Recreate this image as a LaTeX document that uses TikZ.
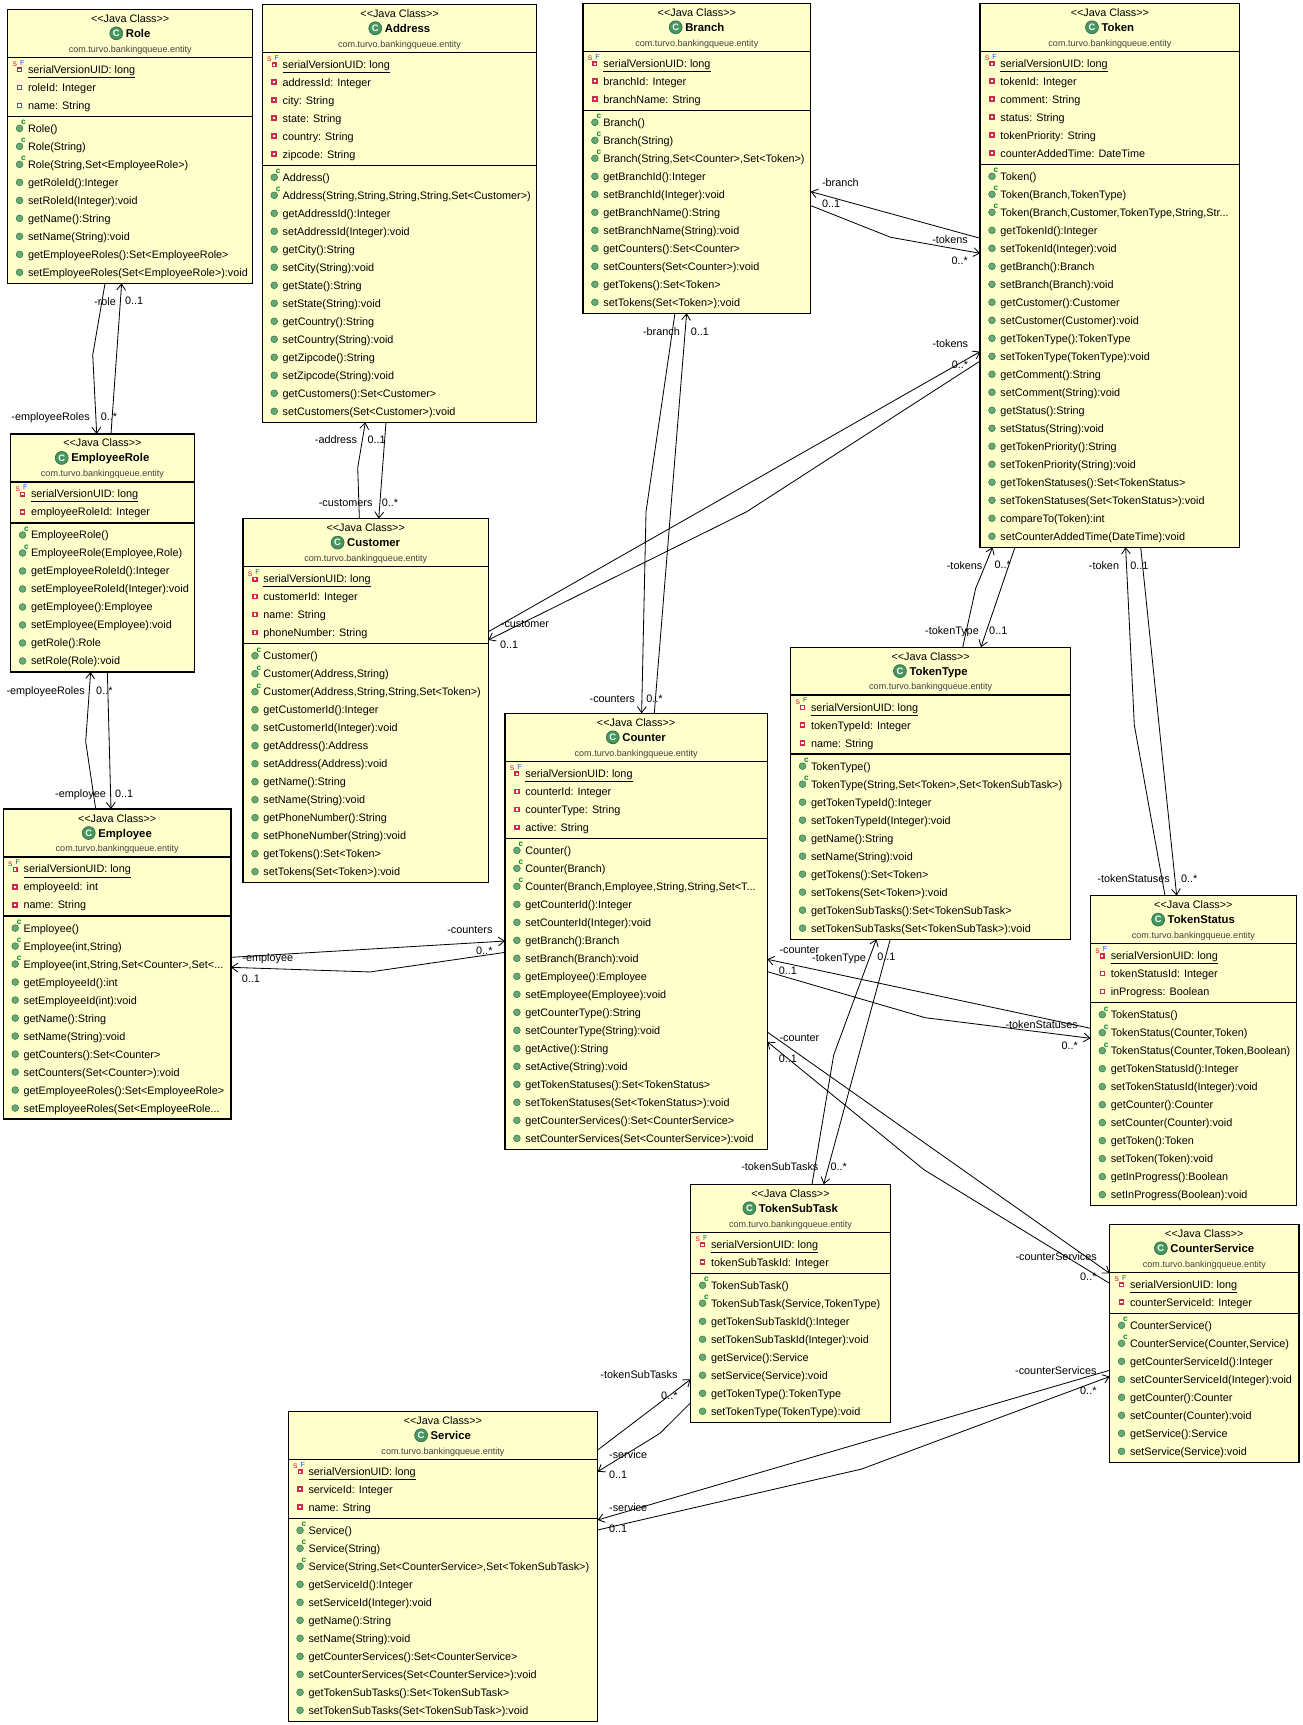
\documentclass[tikz,border=0pt]{standalone}
\usepackage{fontspec}
\setmainfont{Liberation Sans}
\usetikzlibrary{arrows.meta,calc}
\definecolor{boxfill}{RGB}{255,255,204}
\definecolor{fieldred}{RGB}{205,45,75}
\definecolor{methgreen}{RGB}{104,170,118}
\definecolor{methgreendark}{RGB}{50,115,70}
\definecolor{ctorgreen}{RGB}{0,140,50}
\definecolor{classgreen}{RGB}{70,150,95}
\definecolor{classgreendark}{RGB}{40,100,60}
\definecolor{sred}{RGB}{215,0,40}
\definecolor{fblue}{RGB}{30,80,220}

\newcommand\pitch{16.36}
\newcommand\jc{<\kern0pt<Java Class>\kern0pt>}
\newcommand\el{...}
\newcommand\rowfont{\fontsize{9.85}{12}\selectfont}

\tikzset{
  rowtext/.style={anchor=base west, inner sep=0pt, font=\rowfont},
  classbox/.style={draw=black, fill=boxfill, line width=1.1pt, inner sep=0pt, outer sep=0pt, anchor=north west},
  sepline/.style={draw=black, line width=1.1pt},
  assoc/.style={draw=black, line width=0.75pt, -{Straight Barb[length=5.5pt,width=8pt]}},
  lbl/.style={inner sep=0pt, font=\rowfont},
}

\newcommand\iconp[3]{%
  \fill[fieldred] ({#1-2.5},{#2-2.5}) rectangle ({#1+2.5},{#2+2.5});
  \fill[white] ({#1-1.1},{#2-1.1}) rectangle ({#1+1.1},{#2+1.1});}
\newcommand\iconm[3]{%
  \filldraw[fill=methgreen,draw=methgreendark,line width=0.45pt] (#1,#2) circle[radius=3.1pt];}
\newcommand\iconc[3]{%
  \iconm{#1}{#2}{#3}%
  \node[font=\fontsize{7.5}{7.5}\selectfont\bfseries,text=ctorgreen,inner sep=0pt] (#3-c) at ({#1+3.6},{#2-5.3}) {c};}
\newcommand\icons[3]{%
  \fill[fieldred] ({#1-2.3},{#2-1.9}) rectangle ({#1+2.3},{#2+2.7});
  \fill[white] ({#1-1},{#2-0.6}) rectangle ({#1+1},{#2+1.4});
  \node[font=\fontsize{6}{6}\selectfont,text=sred,inner sep=0pt] (#3-s) at ({#1-4.4},{#2-4.3}) {S};
  \node[font=\fontsize{6.5}{6.5}\selectfont,text=fblue,inner sep=0pt] (#3-f) at ({#1+2.4},{#2-6}) {F};}
\newcommand\fmts[1]{\underline{#1}}
\newcommand\fmtp[1]{#1}
\newcommand\fmtm[1]{#1}
\newcommand\fmtc[1]{#1}

\newcommand\umlrow[5]{%
  \csname icon#1\endcsname{#2+10.8}{#3}{#5}%
  \node[rowtext] (#5) at ({#2+18.3},{#3+3.6}) {\csname fmt#1\endcsname{#4}};}

\newcommand\umlclass[7]{%
  \pgfmathsetmacro\cx{(#3+#5)/2}%
  \foreach \rk/\rt [count=\ri] in {#6} {\xdef\na{\ri}}%
  \foreach \rk/\rt [count=\ri] in {#7} {\xdef\nm{\ri}}%
  \pgfmathsetmacro\la{#4+43.6}%
  \pgfmathsetmacro\lb{#4+54.5+(\na-1)*\pitch+10}%
  \pgfmathsetmacro\bt{\lb+11+(\nm-1)*\pitch+10}%
  \node[classbox, minimum width={(#5-#3)*1pt}, minimum height={(\bt-#4)*1pt}] (#1) at (#3,#4) {};
  \draw[sepline] (#3,\la) -- (#5,\la);
  \draw[sepline] (#3,\lb) -- (#5,\lb);
  \node[lbl, anchor=base] (#1-st) at (\cx,{#4+8.2+3.6}) {\jc};
  \node[lbl, anchor=base, font=\fontsize{10.3}{12}\selectfont\bfseries] (#1-nm) at ({\cx+7.2},{#4+21.8+3.7}) {#2};
  \coordinate (#1-ic) at ($(#1-nm.west |- 0,{#4+21.8})+(-8.5,0)$);
  \filldraw[fill=classgreen, draw=classgreendark, line width=0.5pt] (#1-ic) circle[radius=5.9pt];
  \node[inner sep=0pt, text=white, font=\fontsize{8.5}{8.5}\selectfont\bfseries] (#1-icl) at (#1-ic) {C};
  \node[lbl, anchor=base, text=black!75, font=\fontsize{8.2}{10}\selectfont] (#1-pk) at (\cx,{#4+36+2.9}) {com.turvo.bankingqueue.entity};
  \foreach \rk/\rt [count=\ri] in {#6} {\pgfmathsetmacro\ry{#4+54.5+(\ri-1)*\pitch}\umlrow{\rk}{#3}{\ry}{\rt}{#1-a\ri}}%
  \foreach \rk/\rt [count=\ri] in {#7} {\pgfmathsetmacro\ry{\lb+11+(\ri-1)*\pitch}\umlrow{\rk}{#3}{\ry}{\rt}{#1-m\ri}}%
}

\begin{document}
\begin{tikzpicture}[x=1pt,y=-1pt]
\fill[white] (0,0) rectangle (1184.5,1568.2);
\useasboundingbox (0,0) rectangle (1184.5,1568.2);

\umlclass{Role}{Role}{7}{8.5}{229.7}
{s/{serialVersionUID: long}, p/{roleId: Integer}, p/{name: String}}
{c/{Role()}, c/{Role(String)}, c/{Role(String,Set<EmployeeRole>)}, m/{getRoleId():Integer}, m/{setRoleId(Integer):void}, m/{getName():String}, m/{setName(String):void}, m/{getEmployeeRoles():Set<EmployeeRole>}, m/{setEmployeeRoles(Set<EmployeeRole>):void}}

\umlclass{Address}{Address}{238.5}{3.9}{488}
{s/{serialVersionUID: long}, p/{addressId: Integer}, p/{city: String}, p/{state: String}, p/{country: String}, p/{zipcode: String}}
{c/{Address()}, c/{Address(String,String,String,String,Set<Customer>)}, m/{getAddressId():Integer}, m/{setAddressId(Integer):void}, m/{getCity():String}, m/{setCity(String):void}, m/{getState():String}, m/{setState(String):void}, m/{getCountry():String}, m/{setCountry(String):void}, m/{getZipcode():String}, m/{setZipcode(String):void}, m/{getCustomers():Set<Customer>}, m/{setCustomers(Set<Customer>):void}}

\umlclass{Branch}{Branch}{530}{3}{737}
{s/{serialVersionUID: long}, p/{branchId: Integer}, p/{branchName: String}}
{c/{Branch()}, c/{Branch(String)}, c/{Branch(String,Set<Counter>,Set<Token>)}, m/{getBranchId():Integer}, m/{setBranchId(Integer):void}, m/{getBranchName():String}, m/{setBranchName(String):void}, m/{getCounters():Set<Counter>}, m/{setCounters(Set<Counter>):void}, m/{getTokens():Set<Token>}, m/{setTokens(Set<Token>):void}}

\umlclass{Token}{Token}{891}{3}{1127}
{s/{serialVersionUID: long}, p/{tokenId: Integer}, p/{comment: String}, p/{status: String}, p/{tokenPriority: String}, p/{counterAddedTime: DateTime}}
{c/{Token()}, c/{Token(Branch,TokenType)}, c/{Token(Branch,Customer,TokenType,String,Str\el}, m/{getTokenId():Integer}, m/{setTokenId(Integer):void}, m/{getBranch():Branch}, m/{setBranch(Branch):void}, m/{getCustomer():Customer}, m/{setCustomer(Customer):void}, m/{getTokenType():TokenType}, m/{setTokenType(TokenType):void}, m/{getComment():String}, m/{setComment(String):void}, m/{getStatus():String}, m/{setStatus(String):void}, m/{getTokenPriority():String}, m/{setTokenPriority(String):void}, m/{getTokenStatuses():Set<TokenStatus>}, m/{setTokenStatuses(Set<TokenStatus>):void}, m/{compareTo(Token):int}, m/{setCounterAddedTime(DateTime):void}}

\umlclass{EmployeeRole}{EmployeeRole}{9.7}{394.5}{176.5}
{s/{serialVersionUID: long}, p/{employeeRoleId: Integer}}
{c/{EmployeeRole()}, c/{EmployeeRole(Employee,Role)}, m/{getEmployeeRoleId():Integer}, m/{setEmployeeRoleId(Integer):void}, m/{getEmployee():Employee}, m/{setEmployee(Employee):void}, m/{getRole():Role}, m/{setRole(Role):void}}

\umlclass{Customer}{Customer}{221}{471.5}{443.9}
{s/{serialVersionUID: long}, p/{customerId: Integer}, p/{name: String}, p/{phoneNumber: String}}
{c/{Customer()}, c/{Customer(Address,String)}, c/{Customer(Address,String,String,Set<Token>)}, m/{getCustomerId():Integer}, m/{setCustomerId(Integer):void}, m/{getAddress():Address}, m/{setAddress(Address):void}, m/{getName():String}, m/{setName(String):void}, m/{getPhoneNumber():String}, m/{setPhoneNumber(String):void}, m/{getTokens():Set<Token>}, m/{setTokens(Set<Token>):void}}

\umlclass{Employee}{Employee}{3}{735.5}{210}
{s/{serialVersionUID: long}, p/{employeeId: int}, p/{name: String}}
{c/{Employee()}, c/{Employee(int,String)}, c/{Employee(int,String,Set<Counter>,Set<\el}, m/{getEmployeeId():int}, m/{setEmployeeId(int):void}, m/{getName():String}, m/{setName(String):void}, m/{getCounters():Set<Counter>}, m/{setCounters(Set<Counter>):void}, m/{getEmployeeRoles():Set<EmployeeRole>}, m/{setEmployeeRoles(Set<EmployeeRole\el}}

\umlclass{Counter}{Counter}{459.1}{648.5}{697.5}
{s/{serialVersionUID: long}, p/{counterId: Integer}, p/{counterType: String}, p/{active: String}}
{c/{Counter()}, c/{Counter(Branch)}, c/{Counter(Branch,Employee,String,String,Set<T\el}, m/{getCounterId():Integer}, m/{setCounterId(Integer):void}, m/{getBranch():Branch}, m/{setBranch(Branch):void}, m/{getEmployee():Employee}, m/{setEmployee(Employee):void}, m/{getCounterType():String}, m/{setCounterType(String):void}, m/{getActive():String}, m/{setActive(String):void}, m/{getTokenStatuses():Set<TokenStatus>}, m/{setTokenStatuses(Set<TokenStatus>):void}, m/{getCounterServices():Set<CounterService>}, m/{setCounterServices(Set<CounterService>):void}}

\umlclass{TokenType}{TokenType}{718.8}{588.3}{973.3}
{s/{serialVersionUID: long}, p/{tokenTypeId: Integer}, p/{name: String}}
{c/{TokenType()}, c/{TokenType(String,Set<Token>,Set<TokenSubTask>)}, m/{getTokenTypeId():Integer}, m/{setTokenTypeId(Integer):void}, m/{getName():String}, m/{setName(String):void}, m/{getTokens():Set<Token>}, m/{setTokens(Set<Token>):void}, m/{getTokenSubTasks():Set<TokenSubTask>}, m/{setTokenSubTasks(Set<TokenSubTask>):void}}

\umlclass{TokenStatus}{TokenStatus}{991.3}{814.2}{1178.5}
{s/{serialVersionUID: long}, p/{tokenStatusId: Integer}, p/{inProgress: Boolean}}
{c/{TokenStatus()}, c/{TokenStatus(Counter,Token)}, c/{TokenStatus(Counter,Token,Boolean)}, m/{getTokenStatusId():Integer}, m/{setTokenStatusId(Integer):void}, m/{getCounter():Counter}, m/{setCounter(Counter):void}, m/{getToken():Token}, m/{setToken(Token):void}, m/{getInProgress():Boolean}, m/{setInProgress(Boolean):void}}

\umlclass{TokenSubTask}{TokenSubTask}{627.9}{1076.6}{809.4}
{s/{serialVersionUID: long}, p/{tokenSubTaskId: Integer}}
{c/{TokenSubTask()}, c/{TokenSubTask(Service,TokenType)}, m/{getTokenSubTaskId():Integer}, m/{setTokenSubTaskId(Integer):void}, m/{getService():Service}, m/{setService(Service):void}, m/{getTokenType():TokenType}, m/{setTokenType(TokenType):void}}

\umlclass{CounterService}{CounterService}{1008.8}{1113}{1181}
{s/{serialVersionUID: long}, p/{counterServiceId: Integer}}
{c/{CounterService()}, c/{CounterService(Counter,Service)}, m/{getCounterServiceId():Integer}, m/{setCounterServiceId(Integer):void}, m/{getCounter():Counter}, m/{setCounter(Counter):void}, m/{getService():Service}, m/{setService(Service):void}}

\umlclass{Service}{Service}{262}{1283}{543.3}
{s/{serialVersionUID: long}, p/{serviceId: Integer}, p/{name: String}}
{c/{Service()}, c/{Service(String)}, c/{Service(String,Set<CounterService>,Set<TokenSubTask>)}, m/{getServiceId():Integer}, m/{setServiceId(Integer):void}, m/{getName():String}, m/{setName(String):void}, m/{getCounterServices():Set<CounterService>}, m/{setCounterServices(Set<CounterService>):void}, m/{getTokenSubTasks():Set<TokenSubTask>}, m/{setTokenSubTasks(Set<TokenSubTask>):void}}

% ---------- connectors ----------
% Role - EmployeeRole
\draw[assoc] ($(Role.south west)+(88.5,0)$) -- (84.3,322.7) -- ($(EmployeeRole.north west)+(78.2,0)$);
\draw[assoc] ($(EmployeeRole.north west)+(91.2,0)$) -- ($(Role.south west)+(103.6,0)$);
% EmployeeRole - Employee
\draw[assoc] ($(Employee.north west)+(84,0)$) -- (77.9,674.2) -- ($(EmployeeRole.south west)+(72.7,0)$);
\draw[assoc] ($(EmployeeRole.south west)+(87.9,0)$) -- ($(Employee.north west)+(97.9,0)$);
% Address - Customer
\draw[assoc] ($(Customer.north west)+(105.7,0)$) -- (325.2,425.2) -- ($(Address.south west)+(93.6,0)$);
\draw[assoc] ($(Address.south west)+(112.4,0)$) -- ($(Customer.north west)+(123.3,0)$);
% Branch - Token
\draw[assoc] ($(Token.north west)+(0,213.6)$) -- ($(Branch.north east)+(0,171.2)$);
\draw[assoc] ($(Branch.north east)+(0,183.9)$) -- (809.6,215.7) -- ($(Token.north west)+(0,227.3)$);
% Branch - Counter
\draw[assoc] ($(Counter.north west)+(135.7,0)$) -- ($(Branch.south west)+(94.2,0)$);
\draw[assoc] ($(Branch.south west)+(83.6,0)$) -- (587.3,465.2) -- ($(Counter.north west)+(124.2,0)$);
% Token - Customer
\draw[assoc] ($(Customer.north east)+(0,102.8)$) -- ($(Token.north west)+(0,316.7)$);
\draw[assoc] ($(Token.north west)+(0,325.2)$) -- (678.8,465.2) -- ($(Customer.north east)+(0,110.3)$);
% Token - TokenType
\draw[assoc] ($(TokenType.north west)+(156.4,0)$) -- (887,534.8) -- ($(Token.south west)+(11.4,0)$);
\draw[assoc] ($(Token.south west)+(31.7,0)$) -- ($(TokenType.north west)+(173,0)$);
% Token - TokenStatus
\draw[assoc] ($(TokenStatus.north west)+(67.8,0)$) -- (1031.2,659.1) -- ($(Token.south west)+(132.3,0)$);
\draw[assoc] ($(Token.south west)+(146,0)$) -- ($(TokenStatus.north west)+(78.4,0)$);
% Employee - Counter
\draw[assoc] ($(Employee.north east)+(0,134.8)$) -- ($(Counter.north west)+(0,207)$);
\draw[assoc] ($(Counter.north west)+(0,217.3)$) -- (336.4,883.6) -- ($(Employee.north east)+(0,143.9)$);
% Counter - TokenStatus
\draw[assoc] ($(TokenStatus.north west)+(0,120.6)$) -- ($(Counter.north east)+(0,223.6)$);
\draw[assoc] ($(Counter.north east)+(0,234.8)$) -- (841.2,925.2) -- ($(TokenStatus.north west)+(0,129.7)$);
% Counter - CounterService
\draw[assoc] ($(Counter.north east)+(0,289.7)$) -- ($(CounterService.north west)+(0,44.6)$);
\draw[assoc] ($(CounterService.north west)+(0,53.7)$) -- (840.3,1063.6) -- ($(Counter.north east)+(0,298.5)$);
% TokenType - TokenSubTask
\draw[assoc] ($(TokenSubTask.north west)+(110.3,0)$) -- (757.9,959.1) -- ($(TokenType.south west)+(77.9,0)$);
\draw[assoc] ($(TokenType.south west)+(90.6,0)$) -- ($(TokenSubTask.north west)+(120.9,0)$);
% TokenSubTask - Service
\draw[assoc] ($(Service.north east)+(0,35.2)$) -- ($(TokenSubTask.north west)+(0,177.3)$);
\draw[assoc] ($(TokenSubTask.north west)+(0,198.6)$) -- (600,1303) -- ($(Service.north east)+(0,54.9)$);
% CounterService - Service
\draw[assoc] ($(CounterService.north west)+(0,132.7)$) -- ($(Service.north east)+(0,98.8)$);
\draw[assoc] ($(Service.north east)+(0,107.9)$) -- (783.3,1335.5) -- ($(CounterService.north west)+(0,138.4)$);

% ---------- connector labels ----------
\node[lbl, anchor=base east] (lb1) at (105.5,277.9) {-role};
\node[lbl, anchor=base west] (lb2) at (113.6,277) {0..1};
\node[lbl, anchor=base east] (lb3) at (81.8,382.6) {-employeeRoles};
\node[lbl, anchor=base west] (lb4) at (91.5,382.6) {0..*};
\node[lbl, anchor=base east] (lb5) at (77.3,631.5) {-employeeRoles};
\node[lbl, anchor=base west] (lb6) at (87.3,631) {0..*};
\node[lbl, anchor=base east] (lb7) at (96.4,724.8) {-employee};
\node[lbl, anchor=base west] (lb8) at (104.5,724.6) {0..1};
\node[lbl, anchor=base east] (lb9) at (324.8,403.6) {-address};
\node[lbl, anchor=base west] (lb10) at (333.9,403.6) {0..1};
\node[lbl, anchor=base east] (lb11) at (338.8,460.3) {-customers};
\node[lbl, anchor=base west] (lb12) at (347,460.3) {0..*};
\node[lbl, anchor=base west] (lb13) at (747.1,169.3) {-branch};
\node[lbl, anchor=base west] (lb14) at (747.1,188.4) {0..1};
\node[lbl, anchor=base east] (lb15) at (880,221.7) {-tokens};
\node[lbl, anchor=base east] (lb16) at (880,240.5) {0..*};
\node[lbl, anchor=base east] (lb17) at (618.2,304.6) {-branch};
\node[lbl, anchor=base west] (lb18) at (627.9,304.6) {0..1};
\node[lbl, anchor=base east] (lb19) at (577.3,638.4) {-counters};
\node[lbl, anchor=base west] (lb20) at (587.3,638.4) {0..*};
\node[lbl, anchor=base east] (lb21) at (880.3,316.3) {-tokens};
\node[lbl, anchor=base east] (lb22) at (880.3,335.4) {0..*};
\node[lbl, anchor=base west] (lb23) at (455.2,570.9) {-customer};
\node[lbl, anchor=base west] (lb24) at (454.5,590) {0..1};
\node[lbl, anchor=base east] (lb25) at (893.3,517.6) {-tokens};
\node[lbl, anchor=base west] (lb26) at (903.9,517.2) {0..*};
\node[lbl, anchor=base east] (lb27) at (890,577) {-tokenType};
\node[lbl, anchor=base west] (lb28) at (899.1,577) {0..1};
\node[lbl, anchor=base east] (lb29) at (1017.5,517.9) {-token};
\node[lbl, anchor=base west] (lb30) at (1027.3,517.9) {0..1};
\node[lbl, anchor=base east] (lb31) at (1063.6,802.1) {-tokenStatuses};
\node[lbl, anchor=base west] (lb32) at (1073.6,802.1) {0..*};
\node[lbl, anchor=base east] (lb33) at (447.9,848.4) {-counters};
\node[lbl, anchor=base east] (lb34) at (447.9,867.9) {0..*};
\node[lbl, anchor=base west] (lb35) at (220.3,873.9) {-employee};
\node[lbl, anchor=base west] (lb36) at (219.7,893) {0..1};
\node[lbl, anchor=base west] (lb37) at (708.5,867.2) {-counter};
\node[lbl, anchor=base west] (lb38) at (707.9,886.3) {0..1};
\node[lbl, anchor=base east] (lb39) at (980,935.4) {-tokenStatuses};
\node[lbl, anchor=base east] (lb40) at (980,954.5) {0..*};
\node[lbl, anchor=base west] (lb41) at (708.5,946.6) {-counter};
\node[lbl, anchor=base west] (lb42) at (707.9,965.7) {0..1};
\node[lbl, anchor=base east] (lb43) at (997.3,1146.1) {-counterServices};
\node[lbl, anchor=base east] (lb44) at (997,1164.2) {0..*};
\node[lbl, anchor=base west] (lb45) at (738.2,873.9) {-tokenType};
\node[lbl, anchor=base west] (lb46) at (797.3,873.3) {0..1};
\node[lbl, anchor=base east] (lb47) at (744.2,1064.2) {-tokenSubTasks};
\node[lbl, anchor=base west] (lb48) at (754.8,1064.2) {0..*};
\node[lbl, anchor=base east] (lb49) at (616.1,1253) {-tokenSubTasks};
\node[lbl, anchor=base east] (lb50) at (616.1,1272.4) {0..*};
\node[lbl, anchor=base west] (lb51) at (553.6,1325.7) {-service};
\node[lbl, anchor=base west] (lb52) at (553.6,1344.5) {0..1};
\node[lbl, anchor=base east] (lb53) at (997,1249.1) {-counterServices};
\node[lbl, anchor=base east] (lb54) at (997,1268.1) {0..*};
\node[lbl, anchor=base west] (lb55) at (553.6,1373.9) {-service};
\node[lbl, anchor=base west] (lb56) at (553.6,1393) {0..1};
\end{tikzpicture}
\end{document}
